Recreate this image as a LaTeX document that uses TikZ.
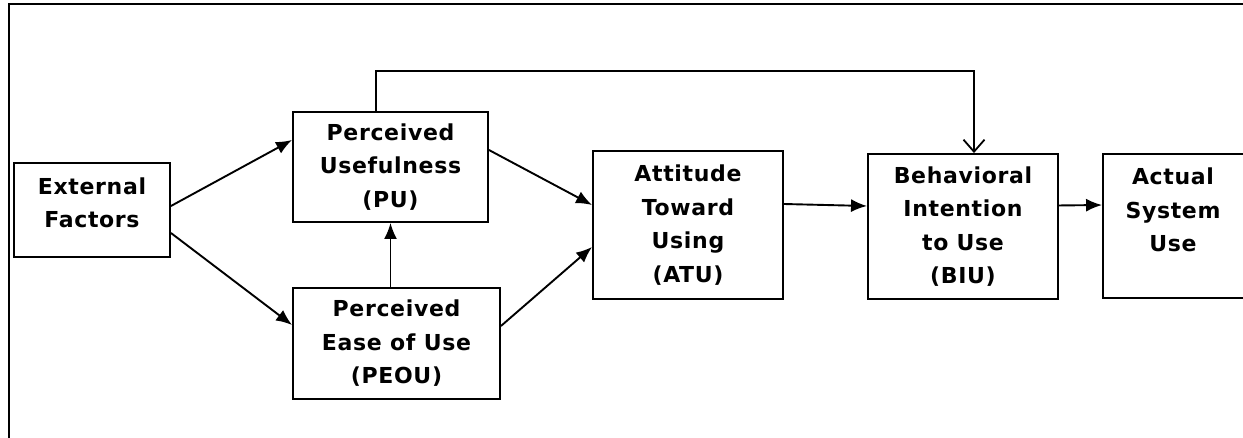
\documentclass[tikz,border=0pt]{standalone}
\usepackage{fontspec}
\setmainfont{DejaVu Sans}[BoldFont={DejaVu Sans Bold},BoldFeatures={LetterSpace=3}]
\usetikzlibrary{arrows.meta,calc}
\tikzset{
  box/.style={draw=black, line width=1.9pt, rectangle, inner sep=0pt},
  lbl/.style={align=center, font=\fontsize{22}{33.5}\selectfont\bfseries, inner sep=0pt},
  conn/.style={draw=black, line width=1.9pt, -{Latex[length=16pt,width=13pt]}},
  barb/.style={draw=black, line width=1.8pt, -{Straight Barb[length=12pt,width=21pt,line width=1.8pt]}},
  frame/.style={draw=black, line width=2.2pt}
}
\begin{document}
\begin{tikzpicture}[x=1pt,y=-1pt]
\useasboundingbox (0,0) rectangle (1243,438);
\clip (0,0) rectangle (1243,438);
\fill[white] (0,0) rectangle (1243,438);
% outer frame (only top and left visible)
\coordinate (frbl) at (9,460);
\coordinate (frtl) at (9,4);
\coordinate (frtr) at (1260,4);
\draw[frame] (frbl) -- (frtl) -- (frtr);

% boxes
\node[box, minimum width=156pt, minimum height=94pt] (ext) at (92,210) {};
\node[lbl] (extlbl) at (92,203) {External\\Factors};
\node[box, lbl, minimum width=195pt, minimum height=110pt] (PU) at (390.5,167) {Perceived\\Usefulness\\(PU)};
\node[box, lbl, minimum width=207pt, minimum height=111pt] (PEOU) at (396.5,343.5) {Perceived\\Ease of Use\\(PEOU)};
\node[box, lbl, minimum width=190pt, minimum height=148pt] (ATU) at (688,225) {Attitude\\Toward\\Using\\(ATU)};
\node[box, lbl, minimum width=190pt, minimum height=145pt] (BIU) at (963,226.5) {Behavioral\\Intention\\to Use\\(BIU)};
\node[box, minimum width=142pt, minimum height=144pt] (ASU) at (1174,226) {};
\node[lbl] (asulbl) at (1173,210) {Actual\\System\\Use};

% connectors
\draw[conn] ($(ext.east)+(0,-4)$) -- ($(PU.west)+(0,-27)$);
\draw[conn] ($(ext.east)+(0,23)$) -- ($(PEOU.west)+(0,-18.5)$);
\draw[conn] (PEOU.north -| PU.south) -- (PU.south);
\draw[conn] ($(PU.east)+(0,-17)$) -- ($(ATU.west)+(0,-20)$);
\draw[conn] ($(PEOU.east)+(0,-17.5)$) -- ($(ATU.west)+(0,22)$);
\draw[conn] ($(ATU.east)+(0,-21)$) -- ($(BIU.west)+(0,-20.5)$);
\draw[conn] ($(BIU.west)+(190,-21)$) -- ($(ASU.west)+(0,-21)$);

% feedback PU -> BIU
\coordinate (fbtop) at (0,71);
\path ($(PU.north)+(-14.5,0)$) coordinate (pufb)
      ($(BIU.north)+(11,0)$) coordinate (biufb);
\draw[barb] (pufb) -- (pufb |- fbtop) -- (biufb |- fbtop) -- (biufb);
\end{tikzpicture}
\end{document}
